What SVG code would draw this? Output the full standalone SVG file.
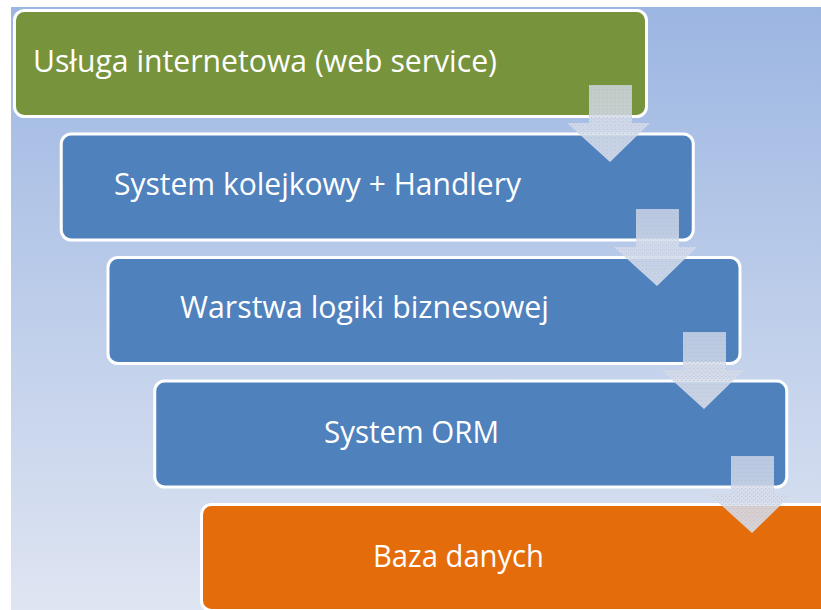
<svg xmlns="http://www.w3.org/2000/svg" width="821" height="610" viewBox="0 0 821 610">
  <defs>
    <linearGradient id="bg" x1="0" y1="0" x2="0" y2="1">
      <stop offset="0" stop-color="#9cb6e2"/>
      <stop offset="1" stop-color="#dfe5f2"/>
    </linearGradient>
    <linearGradient id="arrowFill" x1="0" y1="0" x2="0" y2="1">
      <stop offset="0" stop-color="#d3dae9" stop-opacity="0.8"/>
      <stop offset="1" stop-color="#d6dcea" stop-opacity="0.92"/>
    </linearGradient>
    <pattern id="dots" width="4" height="4" patternUnits="userSpaceOnUse">
      <rect x="0" y="0" width="1" height="1" fill="#9fb0d0" opacity="0.5"/>
      <rect x="2" y="2" width="1" height="1" fill="#b8c4dc" opacity="0.5"/>
    </pattern>
    <path id="arrowShape" d="M22,0 H65 V38 H83 L43,77 L0,38 H22 Z"/>
  </defs>
  <style>
    .box { stroke: #ffffff; stroke-width: 3; }
    .green { fill: #77933c; }
    .blue { fill: #4f81bd; }
    .orange { fill: #e46c0a; }
    .label { fill: #ffffff; font-family: "Open Sans", "Noto Sans", "DejaVu Sans", sans-serif; font-size: 31.5px; }
  </style>

  <!-- backdrop -->
  <rect x="11" y="7" width="810" height="603" fill="url(#bg)"/>

  <g id="node-web-service">
    <rect class="box green" x="14.5" y="10.5" width="632" height="106" rx="10"/>
    <text class="label" x="33" y="72" textLength="464" lengthAdjust="spacingAndGlyphs">Usługa internetowa (web service)</text>
  </g>

  <g id="node-queue">
    <rect class="box blue" x="61.25" y="134" width="632" height="106" rx="10"/>
    <text class="label" x="114" y="195" textLength="407" lengthAdjust="spacingAndGlyphs">System kolejkowy + Handlery</text>
  </g>

  <g id="node-business">
    <rect class="box blue" x="108" y="257.5" width="632" height="106" rx="10"/>
    <text class="label" x="180" y="318" textLength="369" lengthAdjust="spacingAndGlyphs">Warstwa logiki biznesowej</text>
  </g>

  <g id="node-orm">
    <rect class="box blue" x="154.75" y="381" width="632" height="106" rx="10"/>
    <text class="label" x="324" y="443" textLength="175" lengthAdjust="spacingAndGlyphs">System ORM</text>
  </g>

  <g id="node-database">
    <rect class="box orange" x="201.5" y="504.5" width="632" height="106" rx="10"/>
    <text class="label" x="373" y="567" textLength="171" lengthAdjust="spacingAndGlyphs">Baza danych</text>
  </g>

  <g id="connectors">
    <g transform="translate(567,85)">
      <use href="#arrowShape" fill="url(#arrowFill)"/>
      <use href="#arrowShape" fill="url(#dots)"/>
    </g>
    <g transform="translate(614,209)">
      <use href="#arrowShape" fill="url(#arrowFill)"/>
      <use href="#arrowShape" fill="url(#dots)"/>
    </g>
    <g transform="translate(661,332)">
      <use href="#arrowShape" fill="url(#arrowFill)"/>
      <use href="#arrowShape" fill="url(#dots)"/>
    </g>
    <g transform="translate(709,456)">
      <use href="#arrowShape" fill="url(#arrowFill)"/>
      <use href="#arrowShape" fill="url(#dots)"/>
    </g>
  </g>
</svg>
